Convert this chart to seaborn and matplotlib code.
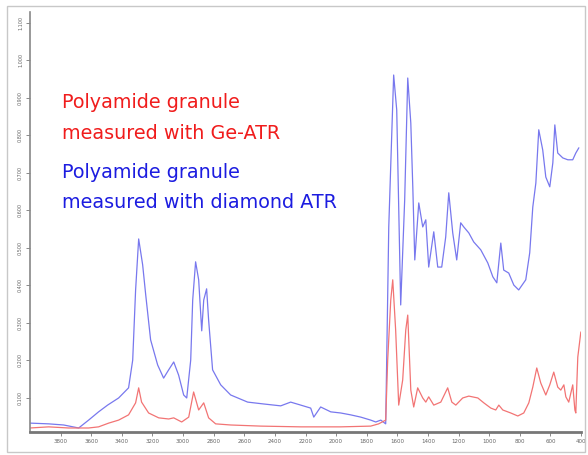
import matplotlib
matplotlib.use("Agg")
import matplotlib.pyplot as plt
from matplotlib.patches import Rectangle
import seaborn as sns
import pandas as pd

# spectrum: wavenumber (1/cm) and absorbance
blue_wn = [4000, 3878, 3780, 3682, 3617, 3552, 3493, 3421, 3356, 3329, 3310, 3290,
           3264, 3244, 3212, 3166, 3127, 3094, 3061, 3029, 2996, 2976, 2950, 2937,
           2918, 2898, 2878, 2865, 2846, 2833, 2807, 2754, 2689, 2578, 2473, 2362,
           2297, 2231, 2166, 2146, 2101, 2035, 1970, 1905, 1839, 1774, 1741, 1708,
           1676, 1656, 1624, 1604, 1578, 1552, 1532, 1512, 1499, 1486, 1460, 1434,
           1414, 1395, 1362, 1336, 1310, 1284, 1264, 1238, 1212, 1186, 1166, 1133,
           1101, 1055, 1009, 976, 950, 924, 905, 872, 839, 807, 761, 735, 715, 695,
           676, 650, 630, 604, 584, 571, 552, 519, 486, 454, 434, 414]
blue_abs = [0.033, 0.031, 0.028, 0.020, 0.041, 0.063, 0.081, 0.100, 0.127, 0.201, 0.388, 0.524,
            0.455, 0.375, 0.255, 0.188, 0.153, 0.175, 0.196, 0.161, 0.108, 0.100, 0.201, 0.361,
            0.463, 0.415, 0.279, 0.361, 0.391, 0.308, 0.175, 0.135, 0.108, 0.089, 0.084, 0.079,
            0.089, 0.081, 0.073, 0.049, 0.076, 0.063, 0.060, 0.055, 0.049, 0.041, 0.036, 0.041,
            0.031, 0.556, 0.961, 0.868, 0.348, 0.628, 0.953, 0.833, 0.663, 0.468, 0.620, 0.556,
            0.575, 0.449, 0.543, 0.449, 0.449, 0.529, 0.647, 0.540, 0.468, 0.567, 0.556, 0.540,
            0.516, 0.495, 0.460, 0.423, 0.407, 0.513, 0.441, 0.433, 0.401, 0.388, 0.415, 0.487,
            0.609, 0.673, 0.815, 0.761, 0.689, 0.663, 0.727, 0.828, 0.753, 0.740, 0.735, 0.735,
            0.753, 0.767]

red_wn = [4000, 3878, 3748, 3617, 3552, 3486, 3421, 3356, 3310, 3290, 3271, 3225,
          3159, 3094, 3061, 3009, 2963, 2931, 2898, 2865, 2833, 2787, 2689, 2493,
          2231, 1970, 1774, 1722, 1676, 1663, 1643, 1630, 1611, 1591, 1565, 1545,
          1532, 1512, 1493, 1467, 1434, 1414, 1395, 1362, 1316, 1271, 1244, 1218,
          1173, 1133, 1074, 1035, 989, 957, 937, 911, 859, 813, 774, 741, 715, 689,
          663, 630, 604, 578, 552, 532, 512, 499, 480, 454, 440, 434, 421, 401]
red_abs = [0.020, 0.023, 0.020, 0.020, 0.023, 0.033, 0.041, 0.055, 0.087, 0.127, 0.089, 0.060,
           0.047, 0.044, 0.047, 0.036, 0.049, 0.116, 0.068, 0.087, 0.047, 0.031, 0.028, 0.025,
           0.023, 0.023, 0.025, 0.031, 0.041, 0.201, 0.361, 0.415, 0.281, 0.081, 0.148, 0.281,
           0.321, 0.121, 0.076, 0.127, 0.100, 0.089, 0.103, 0.081, 0.089, 0.127, 0.089, 0.081,
           0.100, 0.105, 0.100, 0.087, 0.073, 0.068, 0.081, 0.068, 0.060, 0.052, 0.060, 0.087,
           0.129, 0.180, 0.140, 0.108, 0.135, 0.169, 0.129, 0.121, 0.135, 0.103, 0.089, 0.135,
           0.068, 0.060, 0.209, 0.276]

x_ticks = list(range(3800, 399, -200))
y_ticks = [0.1, 0.2, 0.3, 0.4, 0.5, 0.6, 0.7, 0.8, 0.9, 1.0, 1.1]

blue_col = "#7878ee"
red_col = "#f27474"

sns.set_style("white")
plt.rcParams['font.family'] = ['DejaVu Sans']

fig = plt.figure(figsize=(5.88, 4.55), dpi=100)
ax = fig.add_axes([30 / 588, 23 / 455, 551 / 588, 420 / 455])

diamond = pd.DataFrame({'wn': blue_wn, 'absorbance': blue_abs})
ge = pd.DataFrame({'wn': red_wn, 'absorbance': red_abs})
sns.lineplot(data=diamond, x='wn', y='absorbance', color=blue_col, lw=0.9, ax=ax)
sns.lineplot(data=ge, x='wn', y='absorbance', color=red_col, lw=0.9, ax=ax)

ax.set_xlim(4000, 400)
ax.set_ylim(0.0093, 1.129)
ax.set_xticks(x_ticks)
ax.set_xticklabels([str(t) for t in x_ticks], fontsize=4, color='#666666')
ax.set_yticks(y_ticks)
ax.set_yticklabels([f"{t:.3f}" for t in y_ticks], fontsize=3.5, color='#666666',
                   rotation=90, va='center')
ax.tick_params(axis='both', length=3, width=0.6, color='#777777', pad=2, direction='out',
               left=True, bottom=True)
ax.set_xlabel('')
ax.set_ylabel('')
for s in ['top', 'right']:
    ax.spines[s].set_visible(False)
ax.spines['left'].set_color('#888888')
ax.spines['left'].set_linewidth(1.2)
ax.spines['bottom'].set_color('#777777')
ax.spines['bottom'].set_linewidth(2)

# labels
label_size = 13.8
fig.text(62 / 588, 1 - 103 / 455, "Polyamide granule", color='#f01c1c', fontsize=label_size, va='center')
fig.text(62 / 588, 1 - 133 / 455, "measured with Ge-ATR", color='#f01c1c', fontsize=label_size, va='center')
fig.text(62 / 588, 1 - 173 / 455, "Polyamide granule", color='#1c1ce0', fontsize=label_size, va='center')
fig.text(62 / 588, 1 - 203 / 455, "measured with diamond ATR", color='#1c1ce0', fontsize=label_size, va='center')

# outer grey frame
fig.patches.append(Rectangle((7 / 588, 3 / 455), 578 / 588, 446 / 455, transform=fig.transFigure,
                             fill=False, edgecolor='#c8c8c8', lw=1))

fig.savefig("out.png", dpi=100)
